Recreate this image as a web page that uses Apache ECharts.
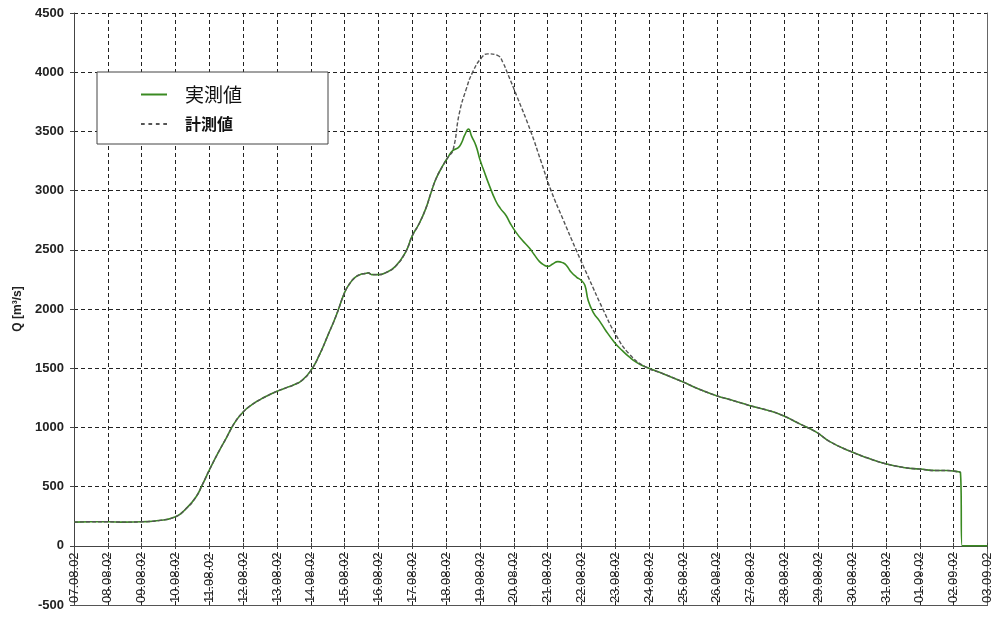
<!DOCTYPE html>
<html>
<head>
<meta charset="utf-8">
<script src="https://cdn.jsdelivr.net/npm/echarts@6/dist/echarts.min.js"></script>
<style>
html,body{margin:0;padding:0;background:#fff;}
#chart{width:994px;height:619px;}
</style>
</head>
<body>
<div id="chart"></div>
<script>
// X tick labels (one per day, index 0 = 07.08.02)
const dateLabels = ['07.08.02','08.08.02','09.08.02','10.08.02','11.08.02','12.08.02','13.08.02',
  '14.08.02','15.08.02','16.08.02','17.08.02','18.08.02','19.08.02','20.08.02','21.08.02',
  '22.08.02','23.08.02','24.08.02','25.08.02','26.08.02','27.08.02','28.08.02','29.08.02',
  '30.08.02','31.08.02','01.09.02','02.09.02','03.09.02'];

// 実測値 (observed) : day offset from 07.08.02 and discharge Q [m3/s]
const obsDays = [0,0.5,1,1.5,2,2.5,3,3.3,3.6,3.8,4,4.25,4.5,4.75,5,5.25,5.5,5.75,6,6.25,6.5,6.75,
  7,7.25,7.5,7.75,8,8.15,8.3,8.45,8.6,8.7,8.8,9,9.2,9.5,9.8,10,10.2,10.4,10.55,10.7,10.9,11.05,
  11.2,11.35,11.45,11.55,11.66,11.75,11.88,12,12.1,12.28,12.47,12.6,12.77,12.9,13.07,13.25,13.46,
  13.6,13.76,13.9,14,14.15,14.3,14.45,14.55,14.7,14.85,15,15.1,15.2,15.35,15.53,15.7,15.97,16.2,
  16.41,16.65,16.9,17.4,17.99,18.5,18.97,19.5,19.96,20.5,20.95,21.45,21.94,22.34,22.93,23.42,
  23.96,24.51,25,25.5,25.8,26.14,26.2,26.25,27];
const obsQ = [200,203,203,200,203,213,245,310,410,520,640,780,910,1040,1130,1190,1235,1272,1305,1332,1360,1400,
  1480,1610,1775,1945,2140,2215,2265,2290,2300,2305,2290,2290,2305,2360,2480,2620,2720,2850,2980,3100,3210,3280,
  3340,3360,3400,3470,3520,3460,3380,3260,3180,3040,2910,2850,2790,2720,2645,2580,2515,
  2460,2400,2370,2360,2380,2400,2390,2370,2310,2270,2240,2200,2070,1970,1900,1825,1720,1650,
  1595,1545,1510,1455,1385,1320,1270,1225,1185,1145,1100,1030,960,880,800,745,
  695,662,648,636,636,625,620,0,0];

// 計測値 (calculated) : where it departs from the observed hydrograph
const calDays = [11.2,11.39,11.59,11.79,12.04,12.23,12.53,12.68,12.8,13.1,13.5,13.8,14.1,14.45,14.84,
  15.2,15.63,16,16.41,16.9];
const calQ = [3340,3655,3855,4005,4120,4155,4140,4080,4000,3790,3500,3250,3000,2760,2500,
  2270,2000,1790,1620,1510];
const calEndDay = 26.2;

const obsData = obsDays.map((d, i) => [d, obsQ[i]]);
const calSeg = calDays.map((d, i) => [d, calQ[i]]);
const calData = obsData.filter(p => p[0] < calDays[0])
  .concat(calSeg)
  .concat(obsData.filter(p => p[0] > calDays[calDays.length - 1] && p[0] <= calEndDay));

const chart = echarts.init(document.getElementById('chart'));
const dashed = {type: [4, 3], color: '#222', width: 1};
const lblFont = 'Liberation Sans, Arial, sans-serif';
const GREEN = '#3a8a22';
const GREY = '#555555';

chart.setOption({
  animation: false,
  backgroundColor: '#fff',
  grid: {left: 74, right: 6, top: 13, bottom: 14, containLabel: false},
  legend: {
    left: 97, top: 72, orient: 'vertical',
    backgroundColor: '#fff', borderColor: '#444', borderWidth: 1,
    padding: [13, 86, 12, 44],
    itemWidth: 26, itemHeight: 2, itemGap: 12,
    textStyle: {fontFamily: 'Noto Sans CJK JP', color: '#111', padding: [0, 0, 0, 13]},
    data: [
      {name: '実測値', icon: 'rect', itemStyle: {color: GREEN},
        textStyle: {fontSize: 19}},
      {name: '計測値', icon: 'path://M0,0h2v1h-2zM4,0h2v1h-2zM8,0h2v1h-2zM12,0h2v1h-2z',
        itemStyle: {color: GREY}, textStyle: {fontSize: 16, fontWeight: 'bold'}}
    ]
  },
  xAxis: [
    { // zero line with ticks below
      type: 'value', min: 0, max: 27, interval: 1, position: 'bottom',
      axisLine: {show: true, onZero: true, lineStyle: {color: '#444', width: 1}},
      axisTick: {show: true, length: 3, lineStyle: {color: '#444'}},
      axisLabel: {show: false},
      splitLine: {show: true, lineStyle: dashed}
    },
    { // bottom frame with date labels
      type: 'value', min: 0, max: 27, interval: 1, position: 'bottom',
      axisLine: {show: true, onZero: false, lineStyle: {color: '#555', width: 1}},
      axisTick: {show: false},
      axisLabel: {
        show: true, inside: true, rotate: 90, margin: 2,
        fontFamily: lblFont, fontSize: 13, color: '#222',
        formatter: v => dateLabels[Math.round(v)] || ''
      },
      splitLine: {show: false}
    },
    { // zero line ticks above
      type: 'value', min: 0, max: 27, interval: 1, position: 'bottom',
      axisLine: {show: false, onZero: true},
      axisTick: {show: true, inside: true, length: 3, lineStyle: {color: '#444'}},
      axisLabel: {show: false},
      splitLine: {show: false}
    }
  ],
  yAxis: [
    {
      type: 'value', min: -500, max: 4500, interval: 500, position: 'left',
      name: 'Q [m³/s]', nameLocation: 'middle', nameGap: 50, nameRotate: 90,
      nameTextStyle: {fontFamily: lblFont, fontSize: 12, fontWeight: 'bold', color: '#222'},
      axisLine: {show: true, onZero: false, lineStyle: {color: '#444', width: 1}},
      axisTick: {show: true, length: 4, lineStyle: {color: '#444'}},
      axisLabel: {fontFamily: lblFont, fontSize: 13, fontWeight: 'bold', color: '#222', margin: 10,
        formatter: v => String(v)},
      splitLine: {show: true, lineStyle: dashed}
    },
    {
      type: 'value', min: -500, max: 4500, interval: 500, position: 'right',
      axisLine: {show: true, onZero: false, lineStyle: {color: '#666', width: 1}},
      axisTick: {show: false}, axisLabel: {show: false}, splitLine: {show: false}
    }
  ],
  series: [
    {
      name: '実測値', type: 'line', xAxisIndex: 0, yAxisIndex: 0,
      data: obsData, showSymbol: false, symbol: 'none',
      smooth: 0.5,
      lineStyle: {color: GREEN, width: 1.6},
      itemStyle: {color: GREEN}, z: 3
    },
    {
      name: '計測値', type: 'line', xAxisIndex: 0, yAxisIndex: 0,
      data: calData, showSymbol: false, symbol: 'none',
      smooth: 0.5,
      lineStyle: {color: GREY, width: 1.4, type: [4, 2]},
      itemStyle: {color: GREY}, z: 4
    }
  ]
});
</script>
</body>
</html>
